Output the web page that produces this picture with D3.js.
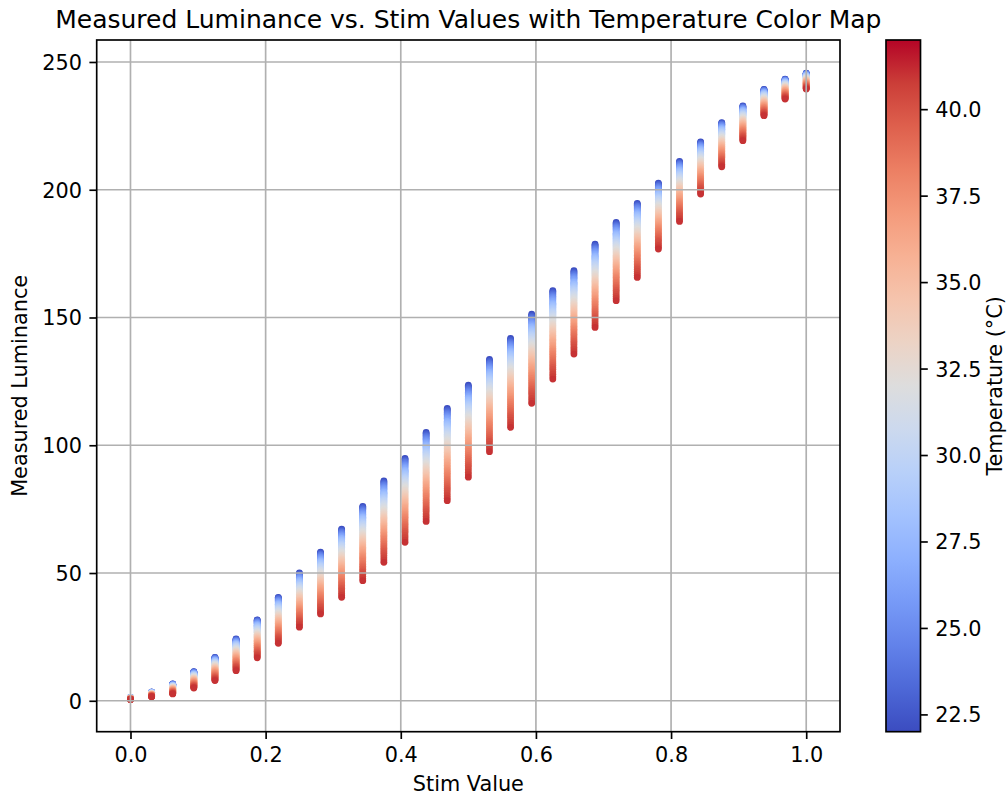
<!DOCTYPE html>
<html><head><meta charset="utf-8">
<script src="https://cdn.jsdelivr.net/npm/d3@7"></script>
<style>
body{margin:0;background:#fff}
svg{display:block}
text{font-family:"DejaVu Sans",sans-serif;fill:#000}
</style>
</head><body>
<svg id="chart" width="1008" height="796"></svg>
<script>
// ---- data ----
const stimValues = [0, 0.03125, 0.0625, 0.09375, 0.125, 0.15625, 0.1875, 0.21875, 0.25, 0.28125, 0.3125, 0.34375, 0.375, 0.40625, 0.4375, 0.46875, 0.5, 0.53125, 0.5625, 0.59375, 0.625, 0.65625, 0.6875, 0.71875, 0.75, 0.78125, 0.8125, 0.84375, 0.875, 0.90625, 0.9375, 0.96875, 1.0];
// luminance of the coolest and hottest sample per stim value
const lumCool = [1.3, 3.4, 6.6, 11.4, 17.0, 24.2, 31.7, 40.5, 50.0, 58.2, 67.2, 76.1, 86.1, 94.9, 105.0, 114.4, 123.5, 133.6, 141.8, 151.3, 160.5, 168.3, 178.7, 187.2, 194.7, 202.6, 211.1, 218.7, 226.3, 232.8, 239.3, 243.3, 245.6];
const lumHot = [0.5, 1.6, 2.7, 5.0, 7.9, 11.8, 16.8, 22.5, 28.8, 34.0, 40.5, 47.0, 54.2, 62.0, 70.2, 78.3, 87.5, 97.5, 107.0, 116.4, 125.9, 135.7, 146.1, 156.6, 165.7, 176.8, 187.6, 198.3, 209.0, 219.2, 229.0, 235.5, 239.4];
// temperatures sampled in every column (in drawing order)
const temperatures = [22, 22.5, 23, 23.5, 24, 24.5, 25, 25.5, 26, 26.5, 27, 27.25, 27.5, 27.75, 28, 28.25, 28.5, 28.75, 29, 29.25, 29.5, 29.75, 30, 30.25, 30.5, 30.75, 31, 31.25, 31.5, 31.75, 32, 32.25, 32.5, 32.75, 33, 33.25, 33.5, 33.75, 34, 34.25, 34.5, 34.75, 35, 35.25, 35.5, 35.75, 36, 36.25, 36.5, 36.75, 37, 37.25, 37.5, 37.75, 38, 38.25, 38.5, 38.75, 39, 39.25, 39.5, 39.75, 40, 40.25, 40.5, 40.75, 41];
const profileTemps = [22, 24, 26, 28, 30, 32, 34, 36, 38, 40, 41];
const profileDrop = [0, 0.05, 0.105, 0.17, 0.255, 0.35, 0.46, 0.58, 0.72, 0.89, 1];

const xTicks = [0, 0.2, 0.4, 0.6, 0.8, 1.0];
const yTicks = [0, 50, 100, 150, 200, 250];
const cbTicks = [22.5, 25, 27.5, 30, 32.5, 35, 37.5, 40];
const xLimits = [-0.05, 1.05];
const yLimits = [-12.1, 258.6];
const tempLimits = [22, 42];
const coolwarm = ["#3b4cc0", "#4d68d7", "#6282ea", "#779af7", "#8db0fe", "#a3c2fe", "#b8d0f9", "#ccd9ee", "#dddddd", "#ecd3c5", "#f5c4ad", "#f7b194", "#f49a7b", "#ec7f63", "#de604d", "#cb3e38", "#b40426"];

// ---- layout ----
const plot = {left: 96.7, right: 840, top: 40, bottom: 731.7};
const cb = {left: 886, right: 920.5, top: 40, bottom: 731.7};
const FS = 20.8;
const LW = 1.67;
const TICK = 7.3;

const svg = d3.select("#chart");
const x = d3.scaleLinear().domain(xLimits).range([plot.left, plot.right]);
const y = d3.scaleLinear().domain(yLimits).range([plot.bottom, plot.top]);
const dropScale = d3.scaleLinear().domain(profileTemps).range(profileDrop);
const colorScale = d3.scaleLinear()
  .domain(coolwarm.map((c, i) => tempLimits[0] + (tempLimits[1] - tempLimits[0]) * i / (coolwarm.length - 1)))
  .range(coolwarm).clamp(true);

// points
const points = [];
stimValues.forEach((s, i) => {
  temperatures.forEach(t => {
    points.push({s, t, lum: lumCool[i] - (lumCool[i] - lumHot[i]) * dropScale(t)});
  });
});

svg.append("clipPath").attr("id", "plotclip").append("rect")
  .attr("x", plot.left).attr("y", plot.top)
  .attr("width", plot.right - plot.left).attr("height", plot.bottom - plot.top);

svg.append("g").attr("clip-path", "url(#plotclip)")
  .selectAll("circle").data(points).join("circle")
  .attr("cx", d => x(d.s)).attr("cy", d => y(d.lum)).attr("r", 3.4)
  .attr("fill", d => colorScale(d.t));

// grid (drawn above scatter, like matplotlib)
const grid = svg.append("g");
grid.selectAll(".vg").data(xTicks).join("line")
  .attr("x1", d => x(d)).attr("x2", d => x(d)).attr("y1", plot.top).attr("y2", plot.bottom)
  .attr("stroke", "#b0b0b0").attr("stroke-width", LW);
grid.selectAll(".hg").data(yTicks).join("line")
  .attr("y1", d => y(d)).attr("y2", d => y(d)).attr("x1", plot.left).attr("x2", plot.right)
  .attr("stroke", "#b0b0b0").attr("stroke-width", LW);

// axes
function styleAxis(g) {
  g.attr("font-size", FS).attr("font-family", '"DejaVu Sans",sans-serif');
  g.select(".domain").remove();
  g.selectAll(".tick line").attr("stroke", "#000").attr("stroke-width", LW);
  g.selectAll(".tick text").attr("fill", "#000");
}
svg.append("g").attr("transform", `translate(0,${plot.bottom})`)
  .call(d3.axisBottom(x).tickValues(xTicks).tickFormat(d3.format(".1f")).tickSize(TICK).tickPadding(8.5))
  .call(styleAxis);
const yAx = svg.append("g").attr("transform", `translate(${plot.left},0)`)
  .call(d3.axisLeft(y).tickValues(yTicks).tickFormat(d3.format("d")).tickSize(TICK).tickPadding(7.5))
  .call(styleAxis);
yAx.selectAll(".tick text").attr("dy", "0.36em");

// frame
svg.append("rect").attr("x", plot.left).attr("y", plot.top)
  .attr("width", plot.right - plot.left).attr("height", plot.bottom - plot.top)
  .attr("fill", "none").attr("stroke", "#000").attr("stroke-width", LW);

// labels
svg.append("text").attr("x", (plot.left + plot.right) / 2).attr("y", 27.5)
  .attr("text-anchor", "middle").attr("font-size", 25)
  .text("Measured Luminance vs. Stim Values with Temperature Color Map");
svg.append("text").attr("x", (plot.left + plot.right) / 2).attr("y", 791)
  .attr("text-anchor", "middle").attr("font-size", FS).text("Stim Value");
svg.append("text").attr("transform", `translate(27,${(plot.top + plot.bottom) / 2}) rotate(-90)`)
  .attr("text-anchor", "middle").attr("font-size", FS).text("Measured Luminance");

// colorbar
const cbScale = d3.scaleLinear().domain(tempLimits).range([cb.bottom, cb.top]);
const grad = svg.append("defs").append("linearGradient").attr("id", "cbgrad")
  .attr("x1", 0).attr("y1", 1).attr("x2", 0).attr("y2", 0);
grad.selectAll("stop").data(coolwarm).join("stop")
  .attr("offset", (d, i) => i / (coolwarm.length - 1)).attr("stop-color", d => d);
svg.append("rect").attr("x", cb.left).attr("y", cb.top)
  .attr("width", cb.right - cb.left).attr("height", cb.bottom - cb.top)
  .attr("fill", "url(#cbgrad)");
svg.append("g").attr("transform", `translate(${cb.right},0)`)
  .call(d3.axisRight(cbScale).tickValues(cbTicks).tickFormat(d3.format(".1f")).tickSize(TICK).tickPadding(7.5))
  .call(styleAxis)
  .selectAll(".tick text").attr("dy", "0.36em");
svg.append("rect").attr("x", cb.left).attr("y", cb.top)
  .attr("width", cb.right - cb.left).attr("height", cb.bottom - cb.top)
  .attr("fill", "none").attr("stroke", "#000").attr("stroke-width", LW);
svg.append("text").attr("transform", `translate(1002,${(cb.top + cb.bottom) / 2}) rotate(-90)`)
  .attr("text-anchor", "middle").attr("font-size", FS).text("Temperature (°C)");
</script>
</body></html>
